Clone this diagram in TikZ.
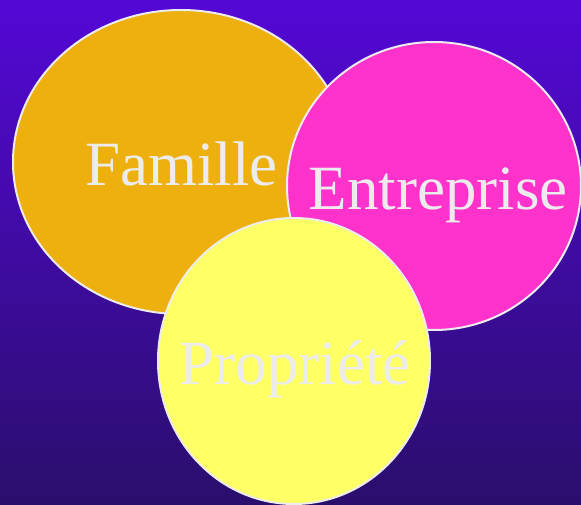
\documentclass[tikz,border=0pt]{standalone}
\usepackage{fontspec}
\setmainfont{Liberation Serif}
\usetikzlibrary{shapes.geometric}
\definecolor{bgtop}{RGB}{84,8,214}
\definecolor{bgbot}{RGB}{42,14,108}
\definecolor{famfill}{RGB}{238,176,14}
\definecolor{entfill}{RGB}{255,51,204}
\definecolor{profill}{RGB}{255,255,102}
\definecolor{rim}{RGB}{236,236,236}
\begin{document}
\begin{tikzpicture}[x=1pt,y=-1pt,
  blob/.style={ellipse, draw=rim, line width=2pt, inner sep=0pt},
  lbl/.style={text=rim, anchor=base, inner sep=0pt, font=\fontsize{63}{63}\selectfont}]
\shade[top color=bgtop, bottom color=bgbot] (0,0) rectangle (581,505);
\useasboundingbox (0,0) rectangle (581,505);
\node[blob, fill=famfill, minimum width=336pt, minimum height=304pt] (fam) at (181,162) {};
\node[lbl] (famt) at (181.5,186) {Famille};
\node[blob, fill=entfill, minimum width=294pt, minimum height=288pt] (ent) at (434,186) {};
\node[lbl] (entt) at (438,210) {Entreprise};
\node[blob, fill=profill, minimum width=272pt, minimum height=286pt] (pro) at (294,361) {};
\node[lbl] (prot) at (295,384) {Propriété};
\end{tikzpicture}
\end{document}
